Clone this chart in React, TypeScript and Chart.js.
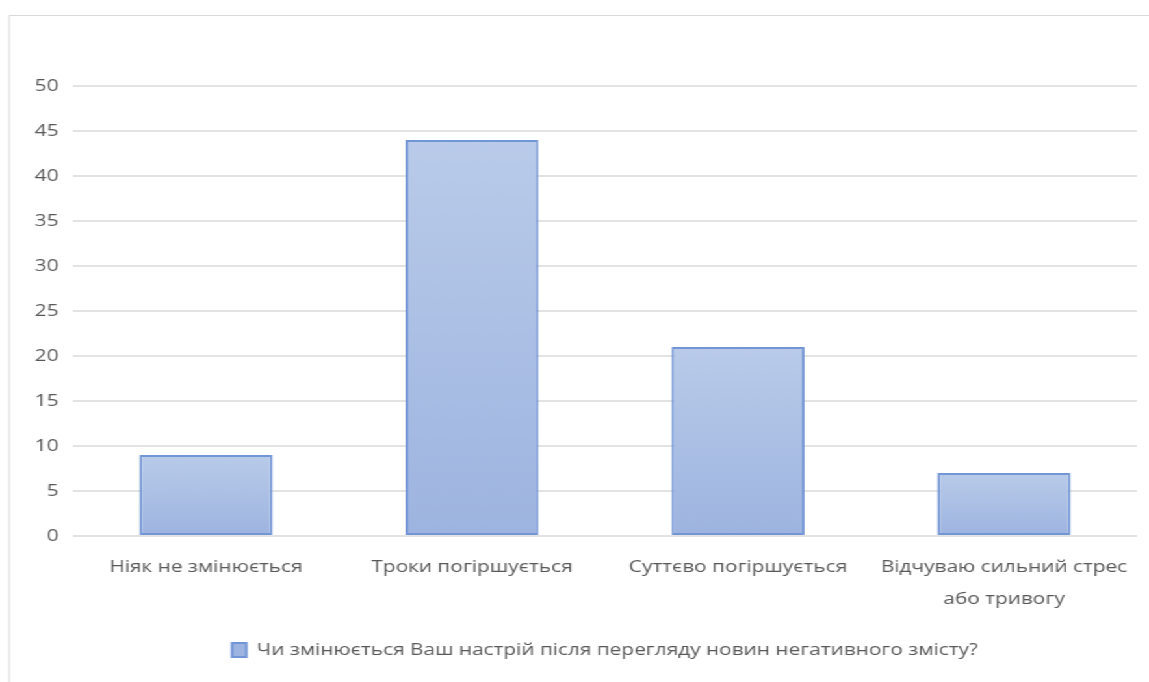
import { useEffect, useRef } from "react";
import { Chart, registerables } from "chart.js";

Chart.register(...registerables);

// Survey answers and number of respondents
const categories: string[][] = [
  ["Ніяк не змінюється"],
  ["Троки погіршується"],
  ["Суттєво погіршується"],
  ["Відчуваю сильний стрес", "або тривогу"],
];
const responses: number[] = [9, 44, 21, 7];
const seriesLabel = "Чи змінюється Ваш настрій після перегляду новин негативного змісту?";
const yTicks: number[] = [0, 5, 10, 15, 20, 25, 30, 35, 40, 45, 50];

const PAGE_W = 1149;
const PAGE_H = 682;
const STRETCH = 1.3; // the chart is drawn narrow and widened horizontally
const CANVAS_W = Math.round(PAGE_W / STRETCH);
const SX = PAGE_W / CANVAS_W;

const TEXT = "#595959";
const FONT = "'Open Sans', sans-serif";

// Light frame around the chart (top and left edges)
const framePlugin = {
  id: "frame",
  beforeDraw(chart: Chart) {
    const ctx = chart.ctx;
    ctx.save();
    ctx.strokeStyle = "#d9d9d9";
    ctx.lineWidth = 1;
    ctx.beginPath();
    ctx.moveTo(7, chart.height + 2);
    ctx.lineTo(7, 15.5);
    ctx.lineTo(chart.width + 2, 15.5);
    ctx.stroke();
    ctx.restore();
  },
};

function barFill(ctx: any) {
  const chart = ctx.chart as Chart;
  const y = chart.scales?.y;
  if (!y || !chart.chartArea) return "#aabfe4";
  const v = typeof ctx.raw === "number" ? ctx.raw : 10;
  const top = y.getPixelForValue(v);
  const base = y.getPixelForValue(0);
  if (!isFinite(top) || !isFinite(base) || top === base) return "#aabfe4";
  const g = chart.ctx.createLinearGradient(0, top, 0, base);
  g.addColorStop(0, "#b9cbe9");
  g.addColorStop(1, "#9db4e0");
  return g;
}

export default function App() {
  const ref = useRef<HTMLCanvasElement | null>(null);

  useEffect(() => {
    document.body.style.margin = "0";
    document.body.style.overflow = "hidden";
    const canvas = ref.current;
    if (!canvas) return;
    const chart = new Chart(canvas, {
      type: "bar",
      data: {
        labels: categories,
        datasets: [
          {
            label: seriesLabel,
            data: responses,
            backgroundColor: barFill,
            borderColor: "#7295d5",
            borderWidth: 2,
            borderSkipped: false,
            categoryPercentage: 1,
            barPercentage: 0.5,
          },
        ],
      },
      options: {
        animation: false,
        responsive: false,
        devicePixelRatio: 1,
        layout: { padding: { top: 86, right: CANVAS_W - 1137 / SX, bottom: 14, left: 0 } },
        plugins: {
          tooltip: { enabled: false },
          legend: {
            position: "bottom",
            fullSize: false,
            labels: {
              color: TEXT,
              font: { family: FONT, size: 16 },
              boxWidth: 11,
              boxHeight: 14,
              padding: 10,
            },
          },
        },
        scales: {
          x: {
            grid: { display: false, drawTicks: false },
            border: { display: false },
            ticks: {
              color: TEXT,
              font: { family: FONT, size: 16, lineHeight: 2 },
              padding: 15,
              maxRotation: 0,
              autoSkip: false,
            },
            afterFit(scale: any) {
              scale.height = 96;
            },
          },
          y: {
            min: 0,
            max: 50,
            afterBuildTicks(scale: any) {
              scale.ticks = yTicks.map((v) => ({ value: v }));
            },
            grid: { color: "#e3e3e3", lineWidth: 2, drawTicks: false },
            border: { display: false },
            ticks: {
              color: TEXT,
              font: { family: FONT, size: 16 },
              padding: 11,
            },
            afterFit(scale: any) {
              scale.width = 73 / SX;
            },
          },
        },
      },
      plugins: [framePlugin],
    });
    return () => chart.destroy();
  }, []);

  return (
    <div
      style={{
        position: "absolute",
        left: 0,
        top: 0,
        width: CANVAS_W,
        height: PAGE_H,
        transform: `scaleX(${SX})`,
        transformOrigin: "0 0",
        background: "#ffffff",
      }}
    >
      <canvas ref={ref} width={CANVAS_W} height={PAGE_H} style={{ display: "block" }} />
    </div>
  );
}
